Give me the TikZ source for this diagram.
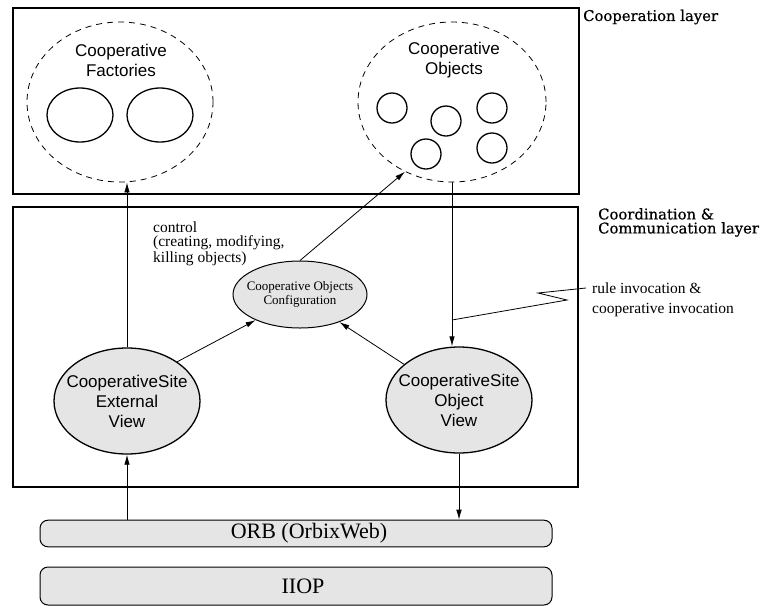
\documentclass[tikz,border=0pt]{standalone}
\usepackage{fontspec}
\setmainfont{Liberation Serif}
\setsansfont{Liberation Sans}
\newfontfamily\layerfont[FakeBold=0.6]{DejaVu Serif}
\usetikzlibrary{shapes.geometric,arrows.meta}

\tikzset{
  layerbox/.style={draw, line width=2.6pt, inner sep=0pt},
  layertxt/.style={inner sep=0pt, font=\layerfont\fontsize{14.8}{14}\selectfont},
  group/.style={draw, ellipse, dash pattern=on 6pt off 5pt, line width=0.8pt, inner sep=0pt},
  member/.style={draw, ellipse, line width=1.3pt, inner sep=0pt, minimum width=66pt, minimum height=54pt},
  obj/.style={draw, circle, line width=1.3pt, inner sep=0pt, minimum size=30pt},
  site/.style={draw, ellipse, fill=gray!20, line width=1.3pt, inner ysep=0pt, inner xsep=-11pt,
    align=center, font=\sffamily\fontsize{17}{20}\selectfont, minimum width=146pt, minimum height=106pt},
  bus/.style={draw, rounded corners=8pt, fill=gray!20, line width=1pt, minimum width=512pt,
    font=\fontsize{22}{24}\selectfont},
  link/.style={-{Latex[length=10pt,width=5.5pt]}, line width=0.8pt}
}

\begin{document}
\begin{tikzpicture}[x=1pt, y=-1pt]
    \useasboundingbox (0,0) rectangle (766,606);

    \node[layerbox, minimum width=566pt, minimum height=186pt] (coop) at (296,101) {};
    \node[layerbox, minimum width=565pt, minimum height=280pt] (coord) at (295.5,347) {};

    \node[group, minimum width=186pt, minimum height=160pt] (fact) at (120,102) {};
    \node[font=\sffamily\fontsize{17}{20}\selectfont, align=center] (facttxt) at (121,60) {Cooperative\\Factories};
    \node[member] (f1) at (80,115) {};
    \node[member] (f2) at (160,115) {};

    \node[group, minimum width=188pt, minimum height=160pt] (objs) at (452,102) {};
    \node[font=\sffamily\fontsize{17}{20}\selectfont, align=center] (objtxt) at (454,60) {Cooperative\\Objects};
    \node[obj] (o1) at (392,108) {};
    \node[obj] (o2) at (446,121) {};
    \node[obj] (o3) at (492,108) {};
    \node[obj] (o4) at (426,154) {};
    \node[obj] (o5) at (492,148) {};

    \node[layertxt, anchor=west] (coopl) at (583,17) {Cooperation layer};
    \node[layertxt, anchor=north west, align=left] (coordl) at (598,208) {Coordination \&\\Communication layer};

    \node[draw, ellipse, fill=gray!20, line width=1pt, inner ysep=0pt, inner xsep=-8pt,
      minimum width=134pt, minimum height=67pt, align=center,
      font=\fontsize{13}{13.5}\selectfont] (config) at (300,294.5) {Cooperative Objects\\Configuration};
    \node[anchor=north west, align=left, inner sep=0pt, font=\fontsize{15.5}{14}\selectfont] (ctrl) at (153,222) {control\\(creating, modifying,\\killing objects)};

    \node[site] (lsite) at (127,401) {CooperativeSite\\External\\View};
    \node[site] (osite) at (459,400) {CooperativeSite\\Object\\View};

    \node[anchor=west, align=left, inner sep=0pt, font=\fontsize{15.5}{20}\selectfont] (rinv) at (592,300) {rule invocation \&\\cooperative invocation};

    \node[bus] (orb) at (296,533.5) {\hspace*{26pt}ORB (OrbixWeb)};
    \node[bus, minimum height=38pt] (iiop) at (296,586) {\hspace*{14pt}IIOP};

    \draw[link] (lsite.north) -- (lsite.north |- fact.south);
    \draw[link] (config.north) -- (objs.236);
    \draw[link] (objs.south) -- (objs.south |- osite.north);
    \draw[link] (lsite.38) -- (config.210);
    \draw[link] (osite.147) -- (config.325);
    \draw[link] (orb.north -| lsite.south) -- (lsite.south);
    \draw[link] (osite.south) -- (osite.south |- orb.north);

    \coordinate (tap) at (452,320);
    \draw[line width=0.8pt] (tap) -- ++(115,-20) -- ++(-29,-7) -- ([xshift=-6pt, yshift=12pt]rinv.west);
\end{tikzpicture}
\end{document}
